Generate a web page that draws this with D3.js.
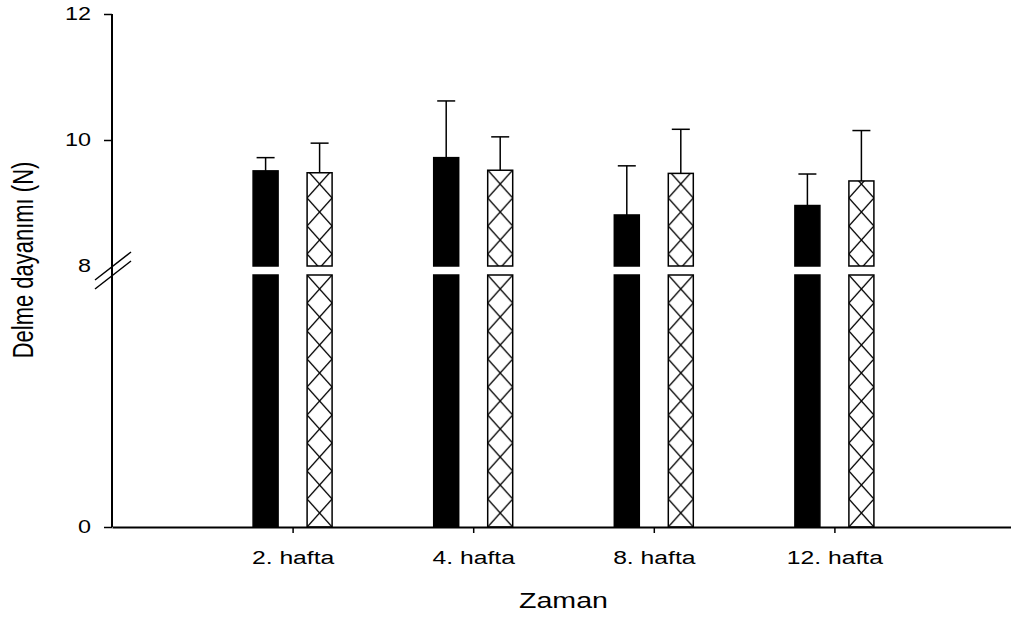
<!DOCTYPE html>
<html>
<head>
<meta charset="utf-8">
<script src="https://cdn.jsdelivr.net/npm/d3@7"></script>
<style>
  body { margin: 0; background: white; }
  text { font-family: "Liberation Sans", Arial, sans-serif; fill: black; }
</style>
</head>
<body>
<script>
var width = 1011, height = 619

// data
const weeks = ["2. hafta", "4. hafta", "8. hafta", "12. hafta"]
const groups = ["dolu", "tarama"]
const meanDolu = [9.51, 9.72, 8.81, 8.96]
const sdDolu = [0.21, 0.90, 0.78, 0.50]
const meanTarama = [9.48, 9.52, 9.47, 9.35]
const sdTarama = [0.47, 0.53, 0.70, 0.80]
const upperTicks = [8, 10, 12]
const lowerTicks = [0]

const means = [meanDolu, meanTarama]
const sds = [sdDolu, sdTarama]

const BREAK = 8
const HATCH_H = 28
const CAP_W = 18
const TEXT_STRETCH = 1.3

var svg = d3.select("body")
    .append("svg")
    .attr("width", width)
    .attr("height", height)

svg.append("rect").attr("width", width).attr("height", height).attr("fill", "white")

let x = d3.scaleLinear()
    .domain([0, weeks.length + 1])
    .range([112, 1015])

let yUp = d3.scaleLinear()
    .domain([BREAK, 12])
    .range([266, 14])

let yLow = d3.scaleLinear()
    .domain([0, BREAK])
    .range([527, 275])

let inner = d3.scaleBand()
    .domain(groups)
    .range([-39.5, 39.5])
    .paddingInner(29 / 54)

let rows = weeks.flatMap((w, i) => groups.map((g, j) => ({
    week: w, i: i, group: g, j: j,
    mean: means[j][i], sd: sds[j][i],
    x0: x(i + 1) + inner(g)
})))

// hatch patterns, one per bar segment so the crosses sit inside each bar
let defs = svg.append("defs")
function addPattern(id, px, py) {
    let p = defs.append("pattern")
        .attr("id", id)
        .attr("patternUnits", "userSpaceOnUse")
        .attr("x", px)
        .attr("y", py)
        .attr("width", inner.bandwidth())
        .attr("height", HATCH_H)
    p.append("rect").attr("width", inner.bandwidth()).attr("height", HATCH_H).attr("fill", "white")
    p.append("line").attr("x1", 0).attr("y1", 0).attr("x2", inner.bandwidth()).attr("y2", HATCH_H)
        .attr("stroke", "black").attr("stroke-width", 1.3)
    p.append("line").attr("x1", inner.bandwidth()).attr("y1", 0).attr("x2", 0).attr("y2", HATCH_H)
        .attr("stroke", "black").attr("stroke-width", 1.3)
}
rows.filter(d => d.j == 1).forEach(d => {
    addPattern(`low-${d.i}`, d.x0, yLow(0))
    addPattern(`up-${d.i}`, d.x0, yUp(BREAK) - 12)
})

function barFill(d, part) {
    return d.j == 0 ? "black" : `url(#${part}-${d.i})`
}

// lower segment (0 - 8)
svg.selectAll(".barLow")
    .data(rows)
    .enter()
    .append("rect")
    .classed("barLow", true)
    .attr("x", d => d.x0)
    .attr("y", yLow(BREAK))
    .attr("width", inner.bandwidth())
    .attr("height", yLow(0) - yLow(BREAK))
    .attr("fill", d => barFill(d, "low"))
    .attr("stroke", "black")
    .attr("stroke-width", 1.5)

// upper segment (8 - mean)
svg.selectAll(".barUp")
    .data(rows)
    .enter()
    .append("rect")
    .classed("barUp", true)
    .attr("x", d => d.x0)
    .attr("y", d => yUp(d.mean))
    .attr("width", inner.bandwidth())
    .attr("height", d => yUp(BREAK) - yUp(d.mean))
    .attr("fill", d => barFill(d, "up"))
    .attr("stroke", "black")
    .attr("stroke-width", 1.5)

// error bars, upper side only
let err = svg.selectAll(".err")
    .data(rows)
    .enter()
    .append("g")
    .classed("err", true)
    .attr("stroke", "black")
    .attr("stroke-width", 1.5)

err.append("line")
    .attr("x1", d => d.x0 + inner.bandwidth() / 2)
    .attr("x2", d => d.x0 + inner.bandwidth() / 2)
    .attr("y1", d => yUp(d.mean))
    .attr("y2", d => yUp(d.mean + d.sd))

err.append("line")
    .attr("x1", d => d.x0 + inner.bandwidth() / 2 - CAP_W / 2)
    .attr("x2", d => d.x0 + inner.bandwidth() / 2 + CAP_W / 2)
    .attr("y1", d => yUp(d.mean + d.sd))
    .attr("y2", d => yUp(d.mean + d.sd))

// x axis
let xAxis = svg.append("g")
    .attr("transform", `translate(0, ${yLow(0)})`)
    .call(d3.axisBottom(x)
        .tickValues(d3.range(1, weeks.length + 1))
        .tickFormat(d => weeks[d - 1])
        .tickSize(6)
        .tickSizeOuter(0))
xAxis.select(".domain").attr("stroke-width", 2)
xAxis.selectAll(".tick line").attr("stroke-width", 1.5)
xAxis.selectAll(".tick text")
    .attr("font-family", null)
    .attr("font-size", 19)
    .attr("y", 23.5)
    .attr("transform", `scale(${TEXT_STRETCH},1)`)

// y axes (two pieces, one continuous line)
function styleY(g) {
    g.select(".domain").remove()
    g.selectAll(".tick line").attr("stroke-width", 1.5)
    g.selectAll(".tick text")
        .attr("font-family", null)
        .attr("font-size", 18)
        .attr("x", -21 / TEXT_STRETCH)
        .attr("transform", `scale(${TEXT_STRETCH},1)`)
}

let yAxisUp = svg.append("g")
    .attr("transform", `translate(${x(0)}, 0)`)
    .call(d3.axisLeft(yUp).tickValues(upperTicks).tickFormat(d3.format("d")).tickSize(8).tickSizeOuter(0))
styleY(yAxisUp)
yAxisUp.selectAll(".tick").filter(d => d == BREAK).select("line").remove()

let yAxisLow = svg.append("g")
    .attr("transform", `translate(${x(0)}, 0)`)
    .call(d3.axisLeft(yLow).tickValues(lowerTicks).tickFormat(d3.format("d")).tickSize(8).tickSizeOuter(0))
styleY(yAxisLow)

svg.append("line")
    .attr("x1", x(0)).attr("x2", x(0))
    .attr("y1", yUp(12)).attr("y2", yLow(0))
    .attr("stroke", "black")
    .attr("stroke-width", 2)

// break marks
svg.selectAll(".breakMark")
    .data([yUp(BREAK), yLow(BREAK)])
    .enter()
    .append("line")
    .classed("breakMark", true)
    .attr("x1", x(0) - 17)
    .attr("y1", d => d + 14)
    .attr("x2", x(0) + 19)
    .attr("y2", d => d - 14)
    .attr("stroke", "black")
    .attr("stroke-width", 1.5)

// axis titles
svg.append("text")
    .attr("transform", `translate(${(x(0) + x(weeks.length + 1)) / 2}, 608) scale(${TEXT_STRETCH},1)`)
    .attr("text-anchor", "middle")
    .attr("font-size", 22)
    .text("Zaman")

svg.append("text")
    .attr("transform", `translate(33, 260) scale(${TEXT_STRETCH},1) rotate(-90)`)
    .attr("text-anchor", "middle")
    .attr("font-size", 22)
    .text("Delme dayanımı (N)")
</script>
</body>
</html>
